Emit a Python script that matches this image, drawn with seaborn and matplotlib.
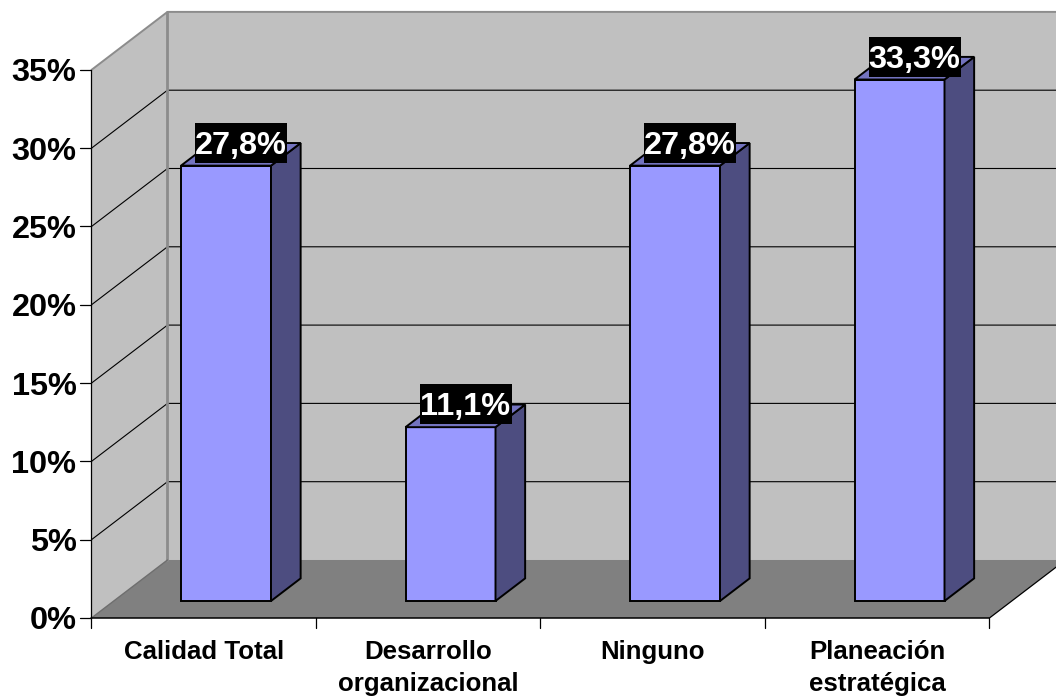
import matplotlib
matplotlib.use("Agg")
import matplotlib.pyplot as plt
from matplotlib.patches import Rectangle
import pandas as pd
import seaborn as sns

categories = ["Calidad Total", "Desarrollo\norganizacional", "Ninguno", "Planeación\nestratégica"]
values = [27.8, 11.1, 27.8, 33.3]
value_labels = ["27,8%", "11,1%", "27,8%", "33,3%"]
axis_ticks = [0, 5, 10, 15, 20, 25, 30, 35]
axis_labels = ["0%", "5%", "10%", "15%", "20%", "25%", "30%", "35%"]

BAR_BLUE = "#9999FF"
BAR_SIDE = "#4D4D80"
BAR_TOP = "#7373BF"
WALL = "#C0C0C0"
FLOOR = "#808080"

sns.set_style("white")
plt.rcParams["font.family"] = ["Liberation Sans", "DejaVu Sans"]

W, H = 1056, 696
CAT_PX = 224.5      # pixels per category
VAL_PX = 15.66      # pixels per percentage point
ORIGIN_X, ORIGIN_Y = 226.0, 601.0   # where category 0, value 0 of the bar plane falls
DEPTH_X, DEPTH_Y = 76.0, 58.0       # full oblique depth of the box, in pixels
BAR_FRONT = 0.293   # depth of the bars' front faces
BAR_DEPTH = 0.39    # how much of the box depth a bar occupies
EDGE = 1.4          # bar outline width


def project(cat, val, depth):
    """Map (category, value, depth) onto the flat data coordinates of the axes."""
    offset = depth - BAR_FRONT
    return cat + offset * DEPTH_X / CAT_PX, val + offset * DEPTH_Y / VAL_PX


def poly(points):
    xs, ys = zip(*[project(*p) for p in points])
    return xs, ys


fig = plt.figure(figsize=(W / 100, H / 100), dpi=100, facecolor="white")
ax = fig.add_axes([0, 0, 1, 1])

frame = pd.DataFrame({"categoria": categories, "valor": values})
sns.barplot(data=frame, x="categoria", y="valor", color=BAR_BLUE, saturation=1,
            width=90 / CAT_PX, edgecolor="black", linewidth=EDGE, zorder=5, ax=ax)

ax.set_xlim(-ORIGIN_X / CAT_PX, (W - ORIGIN_X) / CAT_PX)
ax.set_ylim((ORIGIN_Y - H) / VAL_PX, ORIGIN_Y / VAL_PX)
ax.axis("off")

left, right = -0.5, 3.5
top = axis_ticks[-1]

# Box: back wall, left wall and floor
ax.fill(*poly([(left, 0, 1), (left, top, 1), (right, top, 1), (right, 0, 1)]), color=WALL, lw=0, zorder=0)
ax.fill(*poly([(left, 0, 0), (left, top, 0), (left, top, 1), (left, 0, 1)]), color=WALL, lw=0, zorder=0)
ax.fill(*poly([(left, 0, 0), (left, 0, 1), (right, 0, 1), (right, 0, 0)]), color=FLOOR, lw=0, zorder=0.5)

# Gridlines across both walls
for tick in axis_ticks[1:-1]:
    ax.plot(*poly([(left, tick, 0), (left, tick, 1), (right, tick, 1)]),
            color="black", lw=0.8, zorder=1, solid_joinstyle="miter")

# Grey box outline
ax.plot(*poly([(left, top, 0), (left, top, 1), (right, top, 1)]), color="#8C8C8C", lw=1.4, zorder=1)
ax.plot(*poly([(left, 0, 1), (left, top, 1)]), color="#8C8C8C", lw=2.0, zorder=1)
ax.plot(*poly([(left, 0, 0), (left, 0, 1)]), color="#6E6E6E", lw=1.0, zorder=1)

# Axis lines, tick marks and their labels
ax.plot(*poly([(left, 0, 0), (left, top, 0)]), color="black", lw=0.9, zorder=2)
ax.plot(*poly([(left, 0, 0), (right, 0, 0)]), color="black", lw=1.1, zorder=2)
ax.plot(*poly([(right, 0, 0), (right, 0, 1)]), color="black", lw=0.9, zorder=2)

for tick, label in zip(axis_ticks, axis_labels):
    x0, y0 = project(left, tick, 0)
    ax.plot([x0 - 11 / CAT_PX, x0], [y0, y0], color="black", lw=0.9, zorder=2)
    ax.text(x0 - 15 / CAT_PX, y0, label, ha="right", va="center_baseline",
            fontsize=23.4, fontweight="bold", color="black")

for i in range(len(categories) + 1):
    x0, y0 = project(left + i, 0, 0)
    ax.plot([x0, x0], [y0, y0 - 10 / VAL_PX], color="black", lw=0.9, zorder=2)

for i, name in enumerate(categories):
    x0, y0 = project(i, 0, 0)
    ax.text(x0, y0 - 22 / VAL_PX, name, ha="center", va="top", fontsize=18.6,
            fontweight="bold", color="black", linespacing=1.42)

# Side and top faces of the bars, then the value labels on their black plates
half = 45 / CAT_PX
for i, (val, text) in enumerate(zip(values, value_labels)):
    near, far = BAR_FRONT, BAR_FRONT + BAR_DEPTH
    ax.fill(*poly([(i + half, 0, near), (i + half, 0, far), (i + half, val, far), (i + half, val, near)]),
            facecolor=BAR_SIDE, edgecolor="black", lw=EDGE, zorder=5, joinstyle="miter")
    ax.fill(*poly([(i - half, val, near), (i - half, val, far), (i + half, val, far), (i + half, val, near)]),
            facecolor=BAR_TOP, edgecolor="black", lw=EDGE, zorder=5, joinstyle="miter")
    cx = i + 15 / CAT_PX
    ax.add_patch(Rectangle((cx - 46 / CAT_PX, val + 3 / VAL_PX), 92 / CAT_PX, 40 / VAL_PX,
                           facecolor="black", edgecolor="none", zorder=6))
    ax.text(cx, val + 12 / VAL_PX, text, ha="center", va="baseline",
            fontsize=23.4, fontweight="bold", color="white", zorder=7)

fig.savefig("out.png", dpi=100, facecolor="white")
